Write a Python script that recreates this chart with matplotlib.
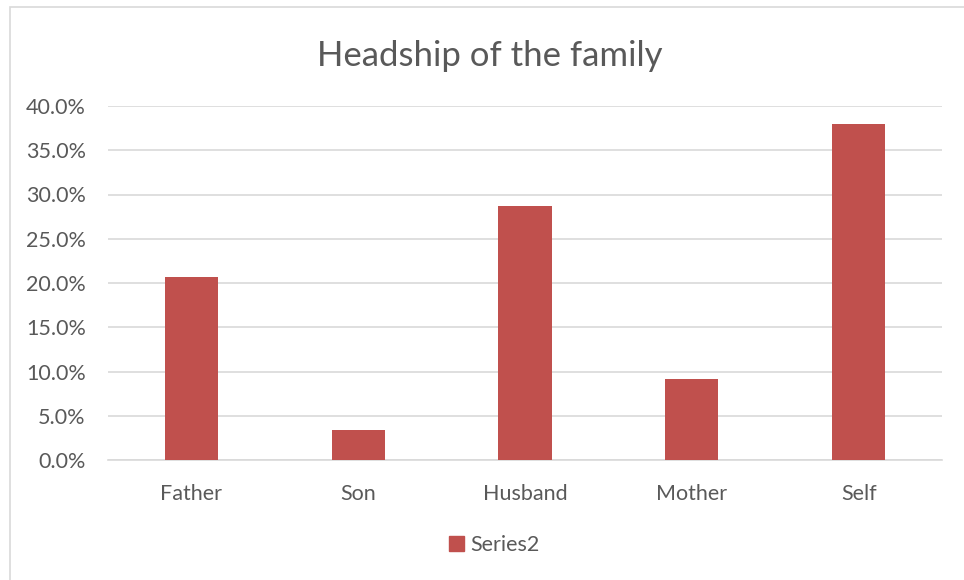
import matplotlib
matplotlib.use('Agg')
import matplotlib.pyplot as plt
import matplotlib.patches as mpatches
from matplotlib.ticker import PercentFormatter

# Data
categories = ['Father', 'Son', 'Husband', 'Mother', 'Self']
shares = [20.7, 3.4, 28.7, 9.2, 38.0]
y_ticks = [0, 5, 10, 15, 20, 25, 30, 35, 40]

BAR_COLOR = '#C0504D'
TEXT_COLOR = '#595959'
GRID_COLOR = '#D9D9D9'

plt.rcParams['font.family'] = ['Lato', 'DejaVu Sans']

fig = plt.figure(figsize=(9.64, 5.8), dpi=100)
fig.patch.set_facecolor('white')

# Chart frame (left and top edges visible)
frame = mpatches.Rectangle((10 / 964, -0.05), 1.0, 1 - 7 / 580 + 0.05,
                           transform=fig.transFigure, fill=False,
                           edgecolor='#D9D9D9', linewidth=1.2)
fig.patches.append(frame)

ax = fig.add_axes([108 / 964, 1 - 460 / 580, (942 - 108) / 964, (460 - 106) / 580])

x = range(len(categories))
ax.bar(x, shares, width=0.32, color=BAR_COLOR, zorder=3)

ax.set_xlim(-0.5, len(categories) - 0.5)
ax.set_ylim(0, 40)
ax.set_yticks(y_ticks)
ax.yaxis.set_major_formatter(PercentFormatter(decimals=1))
ax.set_xticks(list(x))
ax.set_xticklabels(categories)

ax.grid(axis='y', color=GRID_COLOR, linewidth=1.2, zorder=0)
for side in ['top', 'right', 'left']:
    ax.spines[side].set_visible(False)
ax.spines['bottom'].set_color(GRID_COLOR)
ax.spines['bottom'].set_linewidth(1.2)

ax.tick_params(axis='both', length=0, labelsize=15.5, labelcolor=TEXT_COLOR)
ax.tick_params(axis='x', pad=17)
ax.tick_params(axis='y', pad=16)

fig.text(490 / 964, 1 - 56 / 580, 'Headship of the family', ha='center', va='center',
         fontsize=25, color=TEXT_COLOR)

legend_patch = mpatches.Patch(color=BAR_COLOR, label='Series2')
fig.legend(handles=[legend_patch], loc='center', bbox_to_anchor=(494 / 964, 1 - 545 / 580),
           frameon=False, fontsize=15.5, labelcolor=TEXT_COLOR,
           handlelength=0.7, handleheight=0.7, handletextpad=0.3)

fig.savefig('out.png', dpi=100, facecolor='white')
